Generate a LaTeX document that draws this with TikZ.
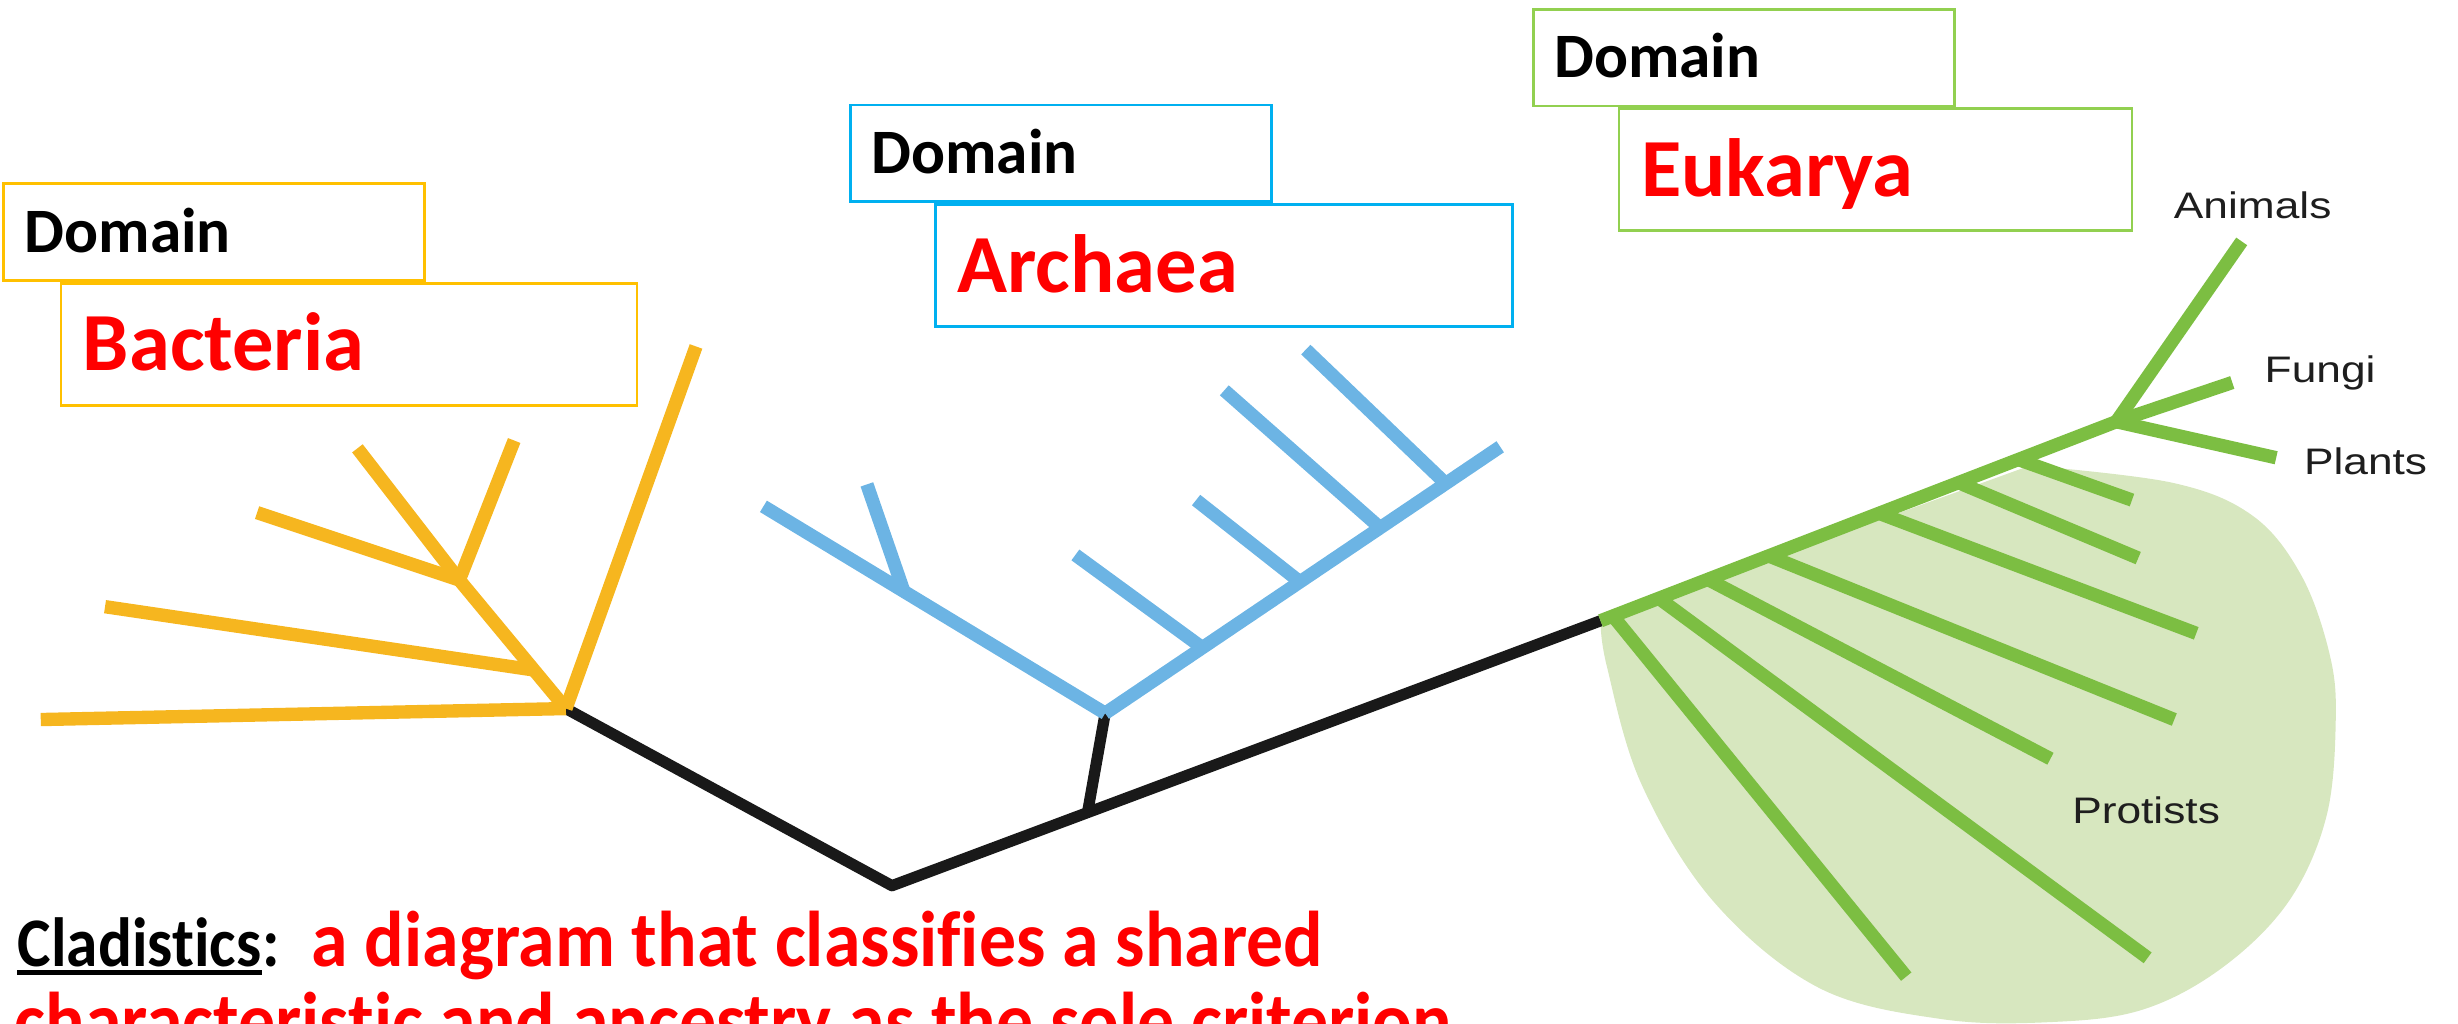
\documentclass[tikz,border=0pt]{standalone}
\usepackage{fontspec}
\setmainfont{Carlito}[Ligatures=NoCommon]
\newfontfamily\labelfont{Liberation Sans}
\usetikzlibrary{calc}
\definecolor{bacorange}{RGB}{246,182,31}
\definecolor{arcblue}{RGB}{108,180,228}
\definecolor{eukgreen}{RGB}{124,190,66}
\definecolor{protistfill}{RGB}{215,231,191}
\definecolor{boxorange}{RGB}{255,192,0}
\definecolor{boxblue}{RGB}{0,176,240}
\definecolor{boxgreen}{RGB}{146,208,80}
\definecolor{labelgray}{RGB}{30,30,30}

\tikzset{
  dombox/.style={draw=#1, line width=0.8pt, anchor=north west, align=left,
    inner xsep=2.1mm, inner ysep=0pt, text width=37.9mm, minimum height=9.67mm,
    text height=11.6pt, text depth=0pt, font=\fontsize{18}{21}\selectfont\bfseries},
  namebox/.style={draw=#1, line width=0.8pt, anchor=north west, align=left,
    inner xsep=2.2mm, inner ysep=0pt, minimum height=12.2mm, text=red,
    text height=15.1pt, text depth=0pt, font=\fontsize{23.5}{28}\selectfont\bfseries},
  limb/.style={line width=3.8pt, draw=#1},
  stem/.style={line width=3.2pt, draw=black!90, line join=round},
  leaf/.style={inner sep=0pt, text=labelgray, font=\labelfont\fontsize{10.5}{12}\selectfont},
  deftext/.style={anchor=base west, inner sep=0pt, font=\fontsize{#1}{24}\selectfont\bfseries},
}

\begin{document}
\begin{tikzpicture}[x=0.15676mm, y=-0.15676mm]
  \clip (0,0) rectangle (1568,653);

  % domain labels
  \node[dombox=boxorange] (bacdom) at (1.5,116.4) {Domain};
  \node[namebox=boxorange, text width=53.2mm] (bacname) at ($(bacdom.south west)+(36.5,0)$) {Bacteria};
  \node[dombox=boxblue] (arcdom) at (541.7,66.1) {Domain};
  \node[namebox=boxblue, text width=53.3mm] (arcname) at ($(arcdom.south west)+(54.2,0)$) {Archaea};
  \node[dombox=boxgreen] (eukdom) at (977.2,5) {Domain};
  \node[namebox=boxgreen, text width=46.9mm] (eukname) at ($(eukdom.south west)+(54.7,0)$) {Eukarya};

  % protist patch under the green tree
  \coordinate (eroot) at (1021,396);
  \coordinate (etop) at (1350,269);
  \fill[protistfill] (eroot) -- (1295,297) -- plot[smooth, tension=0.6] coordinates {
    (1295,297) (1386,308) (1437,329) (1468,367) (1486,417) (1490,459) (1484,521)
    (1460,575) (1418,617) (1367,644) (1308,652) (1238,650) (1160,630) (1093,575)
    (1047,500) (1025,425) (1021,396)} -- cycle;

  % common stem
  \coordinate (broot) at (361,452);
  \coordinate (low) at (569,565);
  \coordinate (aroot) at (705,455);
  \draw[stem] (broot) -- (low) -- (eroot);
  \draw[stem] ($(low)!0.276!(eroot)$) -- (aroot);

  % bacteria
  \coordinate (bfork) at (293,370);
  \foreach \x/\y in {26/459, 444/221} \draw[limb=bacorange] (broot) -- (\x,\y);
  \draw[limb=bacorange] (broot) -- (bfork);
  \draw[limb=bacorange] ($(broot)!0.3!(bfork)$) -- (67,387);
  \foreach \x/\y in {164/327, 228/286, 328/281} \draw[limb=bacorange] (bfork) -- (\x,\y);

  % archaea
  \coordinate (aleft) at (487,323);
  \coordinate (aright) at (957,285);
  \draw[limb=arcblue] (aroot) -- (aleft);
  \draw[limb=arcblue] (aroot) -- (aright);
  \draw[limb=arcblue] ($(aroot)!0.589!(aleft)$) -- (553,309);
  \foreach \t/\x/\y in {0.246/686/354, 0.493/763/319, 0.696/781/249, 0.862/833/223}
    \draw[limb=arcblue] ($(aroot)!\t!(aright)$) -- (\x,\y);

  % eukarya
  \draw[limb=eukgreen] (eroot) -- (etop);
  \foreach \x/\y in {1430/154, 1424/244, 1452/292} \draw[limb=eukgreen] (etop) -- (\x,\y);
  \foreach \t/\x/\y in {0.81/1360/319, 0.694/1364/356, 0.54/1401/404, 0.326/1387/459,
                        0.208/1308/484, 0.113/1370/611, 0.024/1216/623}
    \draw[limb=eukgreen] ($(eroot)!\t!(etop)$) -- (\x,\y);

  \node[leaf] (animals) at (1437,131) {\scalebox{1.2}[1]{Animals}};
  \node[leaf] (fungi) at (1480,238) {\scalebox{1.2}[1]{Fungi}};
  \node[leaf] (plants) at (1509,294) {\scalebox{1.2}[1]{Plants}};
  \node[leaf] (protists) at (1369,517) {\scalebox{1.2}[1]{Protists}};

  % definition
  \node[deftext=18] (clad) at (11,616.5) {\scalebox{1}[1.1]{Cladistics}};
  \node[deftext=18] (colon) at (clad.base east) {\scalebox{1}[1.1]{:}};
  \draw[line width=1.6pt] ($(clad.base west)+(0,3.8)$) -- ($(clad.base east)+(0,3.8)$);
  \node[deftext=21, text=red] (defa) at (198.4,616.5) {\scalebox{1}[1.07]{a diagram that classifies a shared}};
  \node[deftext=21, text=red] (defb) at (9,668) {\scalebox{1}[1.07]{characteristic and ancestry as the sole criterion}};
\end{tikzpicture}
\end{document}
